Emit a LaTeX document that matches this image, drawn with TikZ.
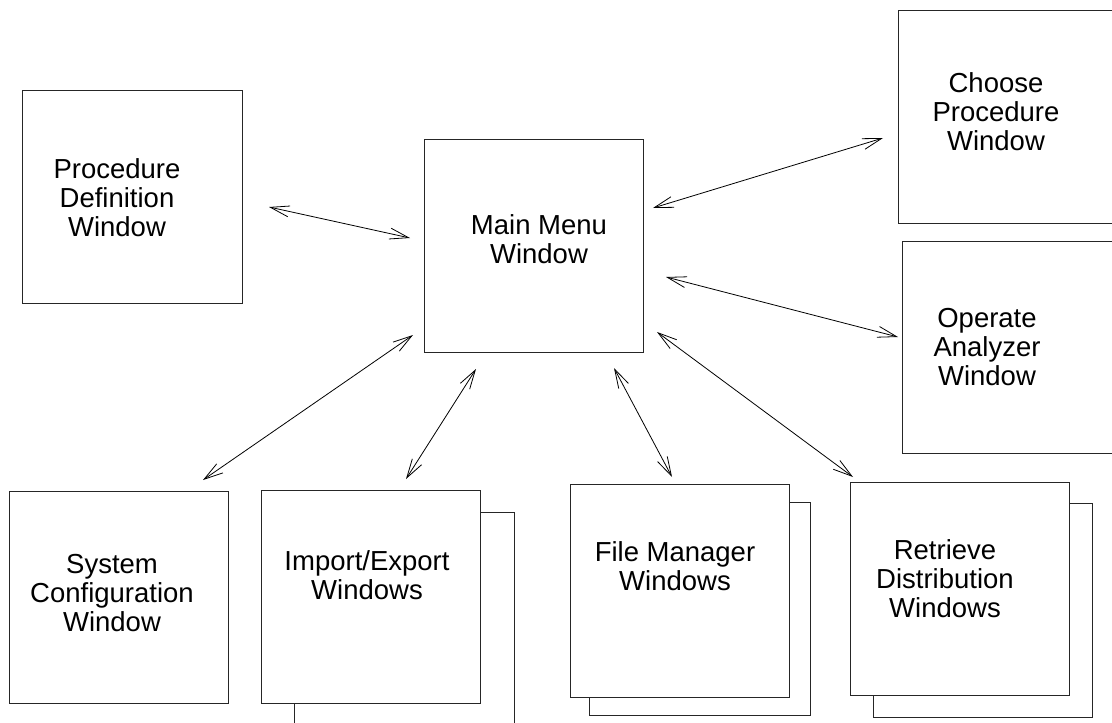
\documentclass[tikz,border=0pt]{standalone}
\usepackage{fontspec}
\setmainfont{Liberation Sans}
\usetikzlibrary{arrows.meta}
\tikzset{
  win/.style={draw=black!85, line width=0.9pt, fill=white, inner sep=0pt, rectangle},
  lbl/.style={align=center, inner sep=0pt, font=\fontsize{27.5}{29}\selectfont},
  link/.style={line width=0.8pt, {Straight Barb[length=19pt,width=11pt]}-{Straight Barb[length=19pt,width=11pt]}}
}
\begin{document}
\begin{tikzpicture}[x=1pt,y=-1pt]
\useasboundingbox (0,0) rectangle (1112,723);
\clip (0,0) rectangle (1112,723);
% boxes
\node[win, minimum width=220pt, minimum height=213pt] (pd) at (132,196.5) {};
\node[win, minimum width=219pt, minimum height=213pt] (mm) at (533.5,245.5) {};
\node[win, minimum width=219pt, minimum height=213pt] (cp) at (1007.5,116.5) {};
\node[win, minimum width=219pt, minimum height=212pt] (oa) at (1011.5,347) {};
\node[win, minimum width=219pt, minimum height=212pt] (sc) at (118.5,597) {};
\node[win, minimum width=220pt, minimum height=213pt] (ieb) at (404,618.5) {};
\node[win, minimum width=219pt, minimum height=213pt] (ie) at (370.5,596.5) {};
\node[win, minimum width=221pt, minimum height=213pt] (fmb) at (699.5,608.5) {};
\node[win, minimum width=219pt, minimum height=213pt] (fm) at (679.5,590.5) {};
\node[win, minimum width=219pt, minimum height=214pt] (rdb) at (982.5,610) {};
\node[win, minimum width=219pt, minimum height=213pt] (rd) at (959.5,588.5) {};
% labels
\node[lbl] (pdt) at (117,198) {Procedure\\Definition\\Window};
\node[lbl] (mmt) at (539,239) {Main Menu\\Window};
\node[lbl] (cpt) at (996,112) {Choose\\Procedure\\Window};
\node[lbl] (oat) at (987,347) {Operate\\Analyzer\\Window};
\node[lbl] (sct) at (112,593) {System\\Configuration\\Window};
\node[lbl] (iet) at (367,575) {Import/Export\\Windows};
\node[lbl] (fmt) at (675,566) {File Manager\\Windows};
\node[lbl] (rdt) at (945,579) {Retrieve\\Distribution\\Windows};
% connector ends
\coordinate (a1) at (269,207); \coordinate (b1) at (410,238);
\coordinate (a2) at (653,208); \coordinate (b2) at (883,138);
\coordinate (a3) at (666,277); \coordinate (b3) at (898,337);
\coordinate (a4) at (413,335); \coordinate (b4) at (203,480);
\coordinate (a5) at (476,369); \coordinate (b5) at (406,479);
\coordinate (a6) at (614,368); \coordinate (b6) at (672,477);
\coordinate (a7) at (657,332); \coordinate (b7) at (853,477);
\draw[link] (a1) -- (b1);
\draw[link] (a2) -- (b2);
\draw[link] (a3) -- (b3);
\draw[link] (a4) -- (b4);
\draw[link] (a5) -- (b5);
\draw[link] (a6) -- (b6);
\draw[link] (a7) -- (b7);
\end{tikzpicture}
\end{document}
